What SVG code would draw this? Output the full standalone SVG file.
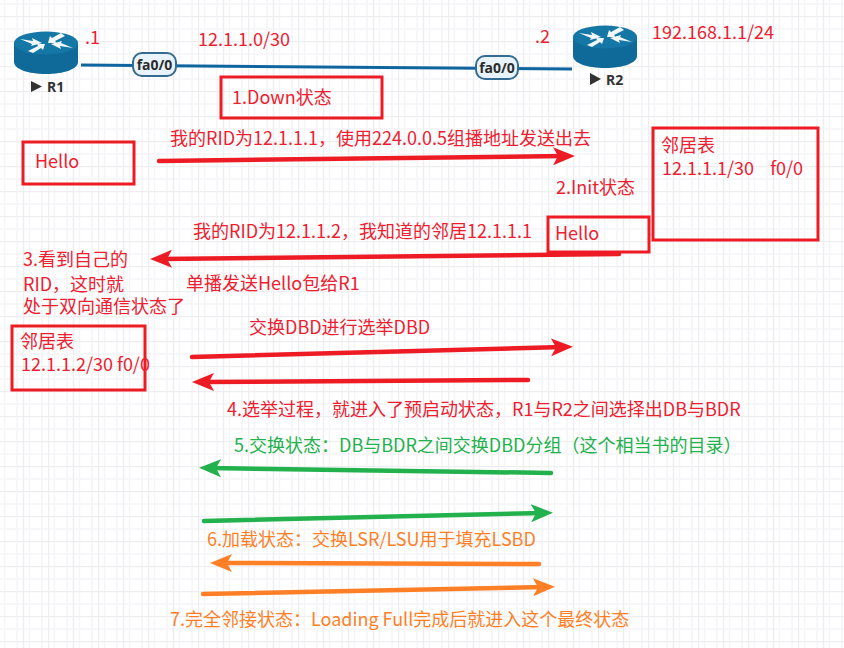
<svg xmlns="http://www.w3.org/2000/svg" xmlns:xlink="http://www.w3.org/1999/xlink" width="844" height="648" viewBox="0 0 844 648">
<style>
text{font-family:"Noto Sans CJK SC","Noto Sans",sans-serif;font-size:18px;white-space:pre}
.r{fill:#ee2030}.g{fill:#22b14c}.o{fill:#ff7f27}
.box{fill:none;stroke:#ed1c24;stroke-width:3}
.a{fill:none;stroke-width:4.5;stroke-linecap:round}
.ar{stroke:#ed1c24;marker-end:url(#hr)}.ag{stroke:#22b14c;marker-end:url(#hg)}.ao{stroke:#ff7f27;marker-end:url(#ho)}
.pill{fill:#e8f3fc;stroke:#346b90;stroke-width:2}
.pt{font-family:"Noto Sans",sans-serif;font-size:14px;font-weight:700;fill:#2c2c2c;text-anchor:middle}
.name{font-family:"Noto Sans",sans-serif;font-size:14px;font-weight:700;fill:#333}
</style>
<defs>
<pattern id="grid" width="50" height="25" patternUnits="userSpaceOnUse" x="48" y="16">
<path d="M6.5 0V25M19 0V25M31.5 0V25M44 0V25M0 13H50" stroke="#f5f5f7" stroke-width="1.5" fill="none"/>
<path d="M0 0.5H50M0.5 0V25M25.5 0V25" stroke="#eeeef1" stroke-width="1.5" fill="none"/>
</pattern>
<marker id="hr" markerUnits="userSpaceOnUse" markerWidth="30" markerHeight="24" refX="12" refY="12" orient="auto"><path d="M0,3L22,12L0,21L5,12Z" fill="#ed1c24"/></marker>
<marker id="hg" markerUnits="userSpaceOnUse" markerWidth="30" markerHeight="24" refX="12" refY="12" orient="auto"><path d="M0,3L22,12L0,21L5,12Z" fill="#22b14c"/></marker>
<marker id="ho" markerUnits="userSpaceOnUse" markerWidth="30" markerHeight="24" refX="12" refY="12" orient="auto"><path d="M0,3L22,12L0,21L5,12Z" fill="#ff7f27"/></marker>
<g id="router">
<path d="M14,43V62C14,69 28,74 46,74C64,74 78,69 78,62V43Z" fill="#0f6a99"/>
<ellipse cx="46" cy="43" rx="32" ry="11.5" fill="#1577a6"/>
<path d="M20,39L33,41L32,38L42,43L31,46L32,44ZM61,33L52,38L50,36L48,43L57,43L55,41L65,36ZM33,53L41,48L43,50L45,44L37,44L38,46L28,51ZM73,48L60,46L61,49L51,44L62,41L61,43Z" fill="#f2f7fa"/>
</g>
</defs>
<rect width="844" height="648" fill="#fff"/>
<rect width="844" height="648" fill="url(#grid)"/>
<g id="connectors">
<path d="M81,65L572,69" fill="none" stroke="#0f659f" stroke-width="3"/>
<path class="a ar" d="M159,161L565,156"/>
<path class="a ar" d="M619,254L160,259"/>
<path class="a ar" d="M192,357L563,347"/>
<path class="a ar" d="M528,380L202,382"/>
<path class="a ag" d="M551,473L209,468"/>
<path class="a ag" d="M204,521L543,513"/>
<path class="a ao" d="M539,564L220,563"/>
<path class="a ao" d="M203,594L545,587"/>
</g>
<g id="R1"><use xlink:href="#router" href="#router"/><path d="M31,81L42,86.5L31,92Z" fill="#333"/><text class="name" x="47" y="92">R1</text></g>
<g id="R2"><use xlink:href="#router" href="#router" x="559" y="-6"/><path d="M590,73L601,79L590,85Z" fill="#333"/><text class="name" x="606" y="85">R2</text></g>
<g id="port1"><rect class="pill" x="133" y="53" width="43" height="23" rx="9"/><text class="pt" x="154.500" y="69.500">fa0/0</text></g>
<g id="port2"><rect class="pill" x="476" y="56" width="42" height="23" rx="9"/><text class="pt" x="497" y="73">fa0/0</text></g>
<g id="labels">
<text class="r" x="85" y="44">.1</text>
<text class="r" x="198" y="46">12.1.1.0/30</text>
<text class="r" x="535" y="43">.2</text>
<text class="r" x="652" y="39">192.168.1.1/24</text>
<text class="r" x="170" y="145">我的RID为12.1.1.1，使用224.0.0.5组播地址发送出去</text>
<text class="r" x="556" y="194">2.Init状态</text>
<text class="r" x="193" y="238">我的RID为12.1.1.2，我知道的邻居12.1.1.1</text>
<text class="r" x="23" y="266">3.看到自己的</text>
<text class="r" x="23" y="291">RID，这时就</text>
<text class="r" x="23" y="313">处于双向通信状态了</text>
<text class="r" x="186" y="290">单播发送Hello包给R1</text>
<text class="r" x="249" y="334">交换DBD进行选举DBD</text>
<text class="r" x="227" y="416">4.选举过程，就进入了预启动状态，R1与R2之间选择出DB与BDR</text>
<text class="g" x="234" y="452">5.交换状态：DB与BDR之间交换DBD分组（这个相当书的目录）</text>
<text class="o" x="207" y="546">6.加载状态：交换LSR/LSU用于填充LSBD</text>
<text class="o" x="170" y="626">7.完全邻接状态：Loading Full完成后就进入这个最终状态</text>
</g>
<g id="down"><rect class="box" x="221" y="77" width="161" height="41"/><text class="r" x="232" y="104">1.Down状态</text></g>
<g id="hello1"><rect class="box" x="23" y="142" width="111" height="42"/><text class="r" x="35" y="168">Hello</text></g>
<g id="hello2"><rect class="box" x="548" y="217" width="101" height="35"/><text class="r" x="555" y="240">Hello</text></g>
<g id="table2"><rect class="box" x="653" y="128" width="165" height="112"/><text class="r" x="661" y="152">邻居表</text><text class="r" x="662" y="175">12.1.1.1/30    f0/0</text></g>
<g id="table1"><rect class="box" x="12" y="326" width="133" height="64"/><text class="r" x="20" y="348">邻居表</text><text class="r" x="21" y="371">12.1.1.2/30 f0/0</text></g>
</svg>
